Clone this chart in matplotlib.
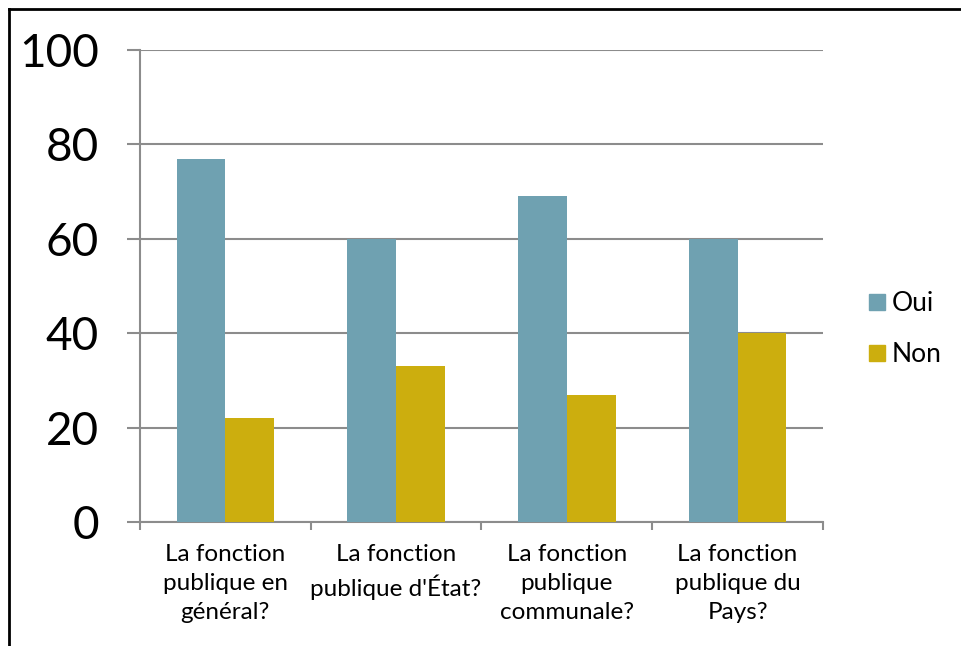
import matplotlib.pyplot as plt
import numpy as np
from matplotlib.lines import Line2D

# data
categories = ["La fonction\npublique en\ngénéral?", "La fonction\npublique d'État?",
              "La fonction\npublique\ncommunale?", "La fonction\npublique du\nPays?"]
oui = [77, 60, 69, 60]
non = [22, 33, 27, 40]
series_names = ["Oui", "Non"]
y_ticks = [0, 20, 40, 60, 80, 100]

OUI_COLOR = "#6fa1b1"
NON_COLOR = "#ccae0e"
GRID = "#8c8c8c"

plt.rcParams["font.family"] = ["Lato", "DejaVu Sans"]

fig = plt.figure(figsize=(9.62, 6.46), dpi=100)
ax = fig.add_axes([140 / 962, 1 - 522 / 646, (823 - 140) / 962, (522 - 50) / 646])

x = np.arange(len(categories))
w = 1 / 3.5
ax.bar(x - w / 2, oui, width=w, color=OUI_COLOR, label=series_names[0], zorder=3)
ax.bar(x + w / 2, non, width=w, color=NON_COLOR, label=series_names[1], zorder=3)

ax.set_xlim(-0.5, len(categories) - 0.5)
ax.set_ylim(0, 100)
ax.set_yticks(y_ticks)
ax.set_yticklabels([str(v) for v in y_ticks], fontsize=33)
ax.yaxis.grid(True, color=GRID, lw=1.5, zorder=0)

# category labels, boundary ticks
ax.set_xticks(x)
ax.set_xticklabels(categories, fontsize=17.5, linespacing=1.45)
ax.set_xticks(np.arange(len(categories) + 1) - 0.5, minor=True)
ax.tick_params(axis="x", which="major", length=0, pad=16)
ax.tick_params(axis="x", which="minor", length=6, width=1.5, color=GRID, direction="out")
ax.tick_params(axis="y", length=9.5, width=1.5, color=GRID, pad=20)

for side in ["top", "right"]:
    ax.spines[side].set_visible(False)
for side in ["left", "bottom"]:
    ax.spines[side].set_color(GRID)
    ax.spines[side].set_linewidth(1.5)

# legend
handles = [
    Line2D([0], [0], marker="s", ls="", markersize=11.5, color=OUI_COLOR),
    Line2D([0], [0], marker="s", ls="", markersize=11.5, color=NON_COLOR),
]
fig.legend(handles, series_names, loc="center left", bbox_to_anchor=(843 / 962, 1 - 329 / 646),
           frameon=False, fontsize=19, handlelength=0.8, handletextpad=0.15, labelspacing=1.0)

# outer frame (left and top edges visible)
fig.add_artist(Line2D([9 / 962, 9 / 962], [0, 1 - 9 / 646], color="black", lw=2, transform=fig.transFigure))
fig.add_artist(Line2D([9 / 962, 1], [1 - 9 / 646, 1 - 9 / 646], color="black", lw=2, transform=fig.transFigure))

fig.savefig("out.png", dpi=100)
